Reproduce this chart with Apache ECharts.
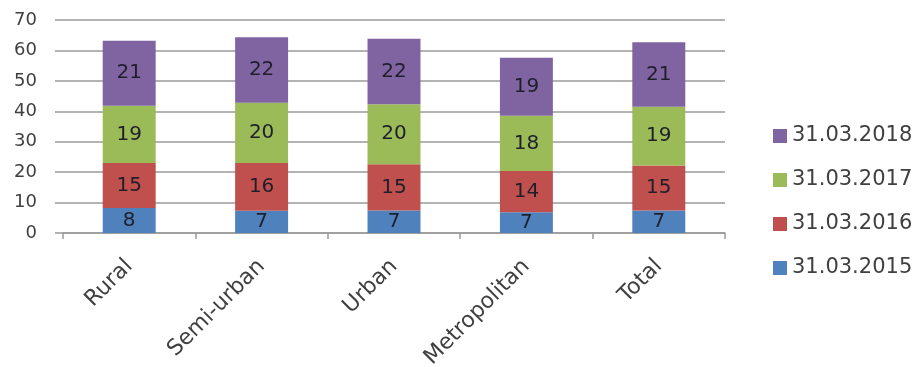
<!DOCTYPE html>
<html>
<head>
<meta charset="utf-8">
<script src="https://cdn.jsdelivr.net/npm/echarts@6/dist/echarts.min.js"></script>
<style>
html,body{margin:0;padding:0;background:#fff;}
#c{width:914px;height:367px;}
</style>
</head>
<body>
<div id="c"></div>
<script>
var categories = ['Rural', 'Semi-urban', 'Urban', 'Metropolitan', 'Total'];
var seriesNames = ['31.03.2015', '31.03.2016', '31.03.2017', '31.03.2018'];
var values2015 = [8.2, 7.3, 7.4, 6.8, 7.4];
var values2016 = [14.8, 15.7, 15.2, 13.6, 14.8];
var values2017 = [18.8, 19.8, 19.7, 18.1, 19.3];
var values2018 = [21.4, 21.5, 21.5, 19.1, 21.2];
var colors = ['#4f81bd', '#c0504d', '#9bbb59', '#8064a2'];
var yTicks = [0, 10, 20, 30, 40, 50, 60, 70];

var allValues = [values2015, values2016, values2017, values2018];
var chart = echarts.init(document.getElementById('c'));
var series = seriesNames.map(function (name, i) {
  return {
    name: name,
    type: 'bar',
    stack: 'total',
    barWidth: '40%',
    data: allValues[i],
    itemStyle: { color: colors[i] },
    label: {
      show: true,
      position: 'inside',
      fontFamily: 'DejaVu Sans',
      fontSize: 20,
      color: '#1f1f2a',
      formatter: function (p) { return String(Math.round(p.value)); }
    }
  };
});
chart.setOption({
  animation: false,
  textStyle: { fontFamily: 'DejaVu Sans' },
  grid: { left: 63, right: 189, top: 20, bottom: 134, containLabel: false, outerBoundsMode: 'none' },
  legend: {
    orient: 'vertical',
    left: 768,
    top: 120,
    data: seriesNames.slice().reverse(),
    itemWidth: 14,
    itemHeight: 14,
    itemGap: 22,
    icon: 'rect',
    textStyle: { fontFamily: 'DejaVu Sans', fontSize: 21, color: '#404040', lineHeight: 22 }
  },
  xAxis: {
    type: 'category',
    data: categories,
    axisLine: { lineStyle: { color: '#9a9a9a', width: 1.5 } },
    axisTick: { show: true, length: 6, alignWithLabel: false, lineStyle: { color: '#9a9a9a', width: 1.5 } },
    axisLabel: {
      rotate: 45,
      margin: 30,
      fontFamily: 'DejaVu Sans',
      fontSize: 22,
      color: '#404040'
    }
  },
  yAxis: {
    type: 'value',
    min: yTicks[0],
    max: yTicks[yTicks.length - 1],
    interval: 10,
    axisLine: { show: false },
    axisTick: { show: true, length: 8, lineStyle: { color: '#9a9a9a', width: 1.5 } },
    splitLine: { lineStyle: { color: '#9a9a9a', width: 1.5 } },
    axisLabel: {
      margin: 26,
      fontFamily: 'DejaVu Sans',
      fontSize: 18,
      color: '#404040'
    }
  },
  series: series
});
</script>
</body>
</html>
